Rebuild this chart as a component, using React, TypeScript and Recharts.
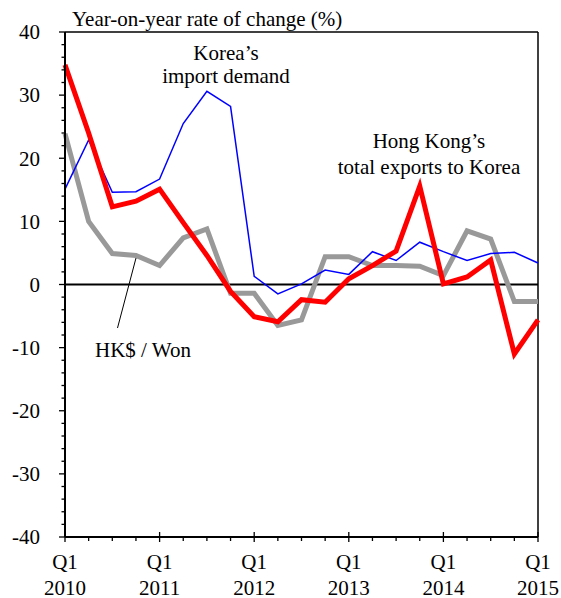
import { LineChart, Line, XAxis, YAxis, ReferenceLine } from 'recharts'

const quarters = [
  'Q1 2010', 'Q2 2010', 'Q3 2010', 'Q4 2010',
  'Q1 2011', 'Q2 2011', 'Q3 2011', 'Q4 2011',
  'Q1 2012', 'Q2 2012', 'Q3 2012', 'Q4 2012',
  'Q1 2013', 'Q2 2013', 'Q3 2013', 'Q4 2013',
  'Q1 2014', 'Q2 2014', 'Q3 2014', 'Q4 2014',
  'Q1 2015',
]

// Korea's import demand
const koreaImports = [15.1, 22.9, 14.6, 14.7, 16.7, 25.5, 30.6, 28.2, 1.3, -1.5, 0.1, 2.3, 1.6, 5.2, 3.8, 6.7, 5.2, 3.8, 4.9, 5.1, 3.4]
// Hong Kong's total exports to Korea
const hkExports = [34.8, 24.0, 12.3, 13.2, 15.1, 9.8, 4.6, -1.1, -5.1, -5.9, -2.4, -2.8, 0.9, 3.0, 5.3, 15.6, 0.1, 1.2, 3.9, -11.0, -5.6]
// HK$ / Won
const hkdWon = [23.9, 10.0, 4.9, 4.6, 3.0, 7.4, 8.8, -1.4, -1.4, -6.5, -5.6, 4.4, 4.4, 3.0, 3.0, 2.9, 1.4, 8.5, 7.2, -2.7, -2.7]

const yTicks = [-40, -38, -36, -34, -32, -30, -28, -26, -24, -22, -20, -18, -16, -14, -12, -10, -8, -6, -4, -2, 0, 2, 4, 6, 8, 10, 12, 14, 16, 18, 20, 22, 24, 26, 28, 30, 32, 34, 36, 38, 40]

const data = quarters.map((q, i) => ({
  quarter: q,
  korea: koreaImports[i],
  hk: hkExports[i],
  won: hkdWon[i],
}))

const FONT = '"Liberation Serif", "Times New Roman", serif'

const YTick = ({ x, y, payload }: any) => {
  const major = payload.value % 10 === 0
  return (
    <g>
      <line x1={x - (major ? 6 : 3.5)} x2={x} y1={y} y2={y} stroke="#000" strokeWidth={1.3} />
      {major && (
        <text x={x - 25} y={y} dy="0.35em" textAnchor="end" fontFamily={FONT} fontSize={21} fill="#000">
          {payload.value}
        </text>
      )}
    </g>
  )
}

const XTick = ({ x, y, index, payload }: any) => {
  const major = index % 4 === 0
  const year = String(payload.value).split(' ')[1]
  return (
    <g>
      <line x1={x} x2={x} y1={major ? y - 5 : y} y2={y + (major ? 5 : 4)} stroke="#000" strokeWidth={1.3} />
      {major && (
        <text x={x} y={y} textAnchor="middle" fontFamily={FONT} fontSize={21} fill="#000">
          <tspan x={x} dy={32}>Q1</tspan>
          <tspan x={x} dy={25.5}>{year}</tspan>
        </text>
      )}
    </g>
  )
}

export default function App() {
  return (
    <div style={{ position: 'absolute', left: 0, top: 0, width: 561, height: 598, background: '#fff' }}>
      <LineChart width={561} height={598} data={data} margin={{ top: 32, right: 23, left: 0, bottom: 0 }}>
        <XAxis
          dataKey="quarter"
          height={61}
          interval={0}
          tickSize={0}
          tickMargin={0}
          tickLine={false}
          tick={<XTick />}
          axisLine={{ stroke: '#000', strokeWidth: 2 }}
        />
        <YAxis
          width={65}
          domain={[-40, 40]}
          ticks={yTicks}
          interval={0}
          tickSize={0}
          tickMargin={0}
          tickLine={false}
          tick={<YTick />}
          axisLine={{ stroke: '#000', strokeWidth: 2 }}
        />
        <ReferenceLine y={40} stroke="#000" strokeWidth={1.5} />
        <ReferenceLine x="Q1 2015" stroke="#000" strokeWidth={1.5} />
        <ReferenceLine y={0} stroke="#000" strokeWidth={1.8} />
        <Line dataKey="won" stroke="#999999" strokeWidth={5} dot={false} isAnimationActive={false} />
        <Line dataKey="korea" stroke="#0000FF" strokeWidth={1.5} dot={false} isAnimationActive={false} />
        <Line dataKey="hk" stroke="#FF0000" strokeWidth={5} dot={false} isAnimationActive={false} />
      </LineChart>
      <svg width={561} height={598} style={{ position: 'absolute', left: 0, top: 0, pointerEvents: 'none', fontFamily: FONT }}>
        <g fontFamily={FONT} fontSize={21} fill="#000">
          <text x={72} y={26}>Year-on-year rate of change (%)</text>
          <text x={226} y={60} textAnchor="middle">Korea’s</text>
          <text x={226} y={83} textAnchor="middle">import demand</text>
          <text x={429} y={148} textAnchor="middle">Hong Kong’s</text>
          <text x={429} y={174} textAnchor="middle">total exports to Korea</text>
          <text x={143} y={357} textAnchor="middle">HK$ / Won</text>
        </g>
        <line x1={136} y1={258} x2={117.5} y2={328} stroke="#000" strokeWidth={1} />
      </svg>
    </div>
  )
}
